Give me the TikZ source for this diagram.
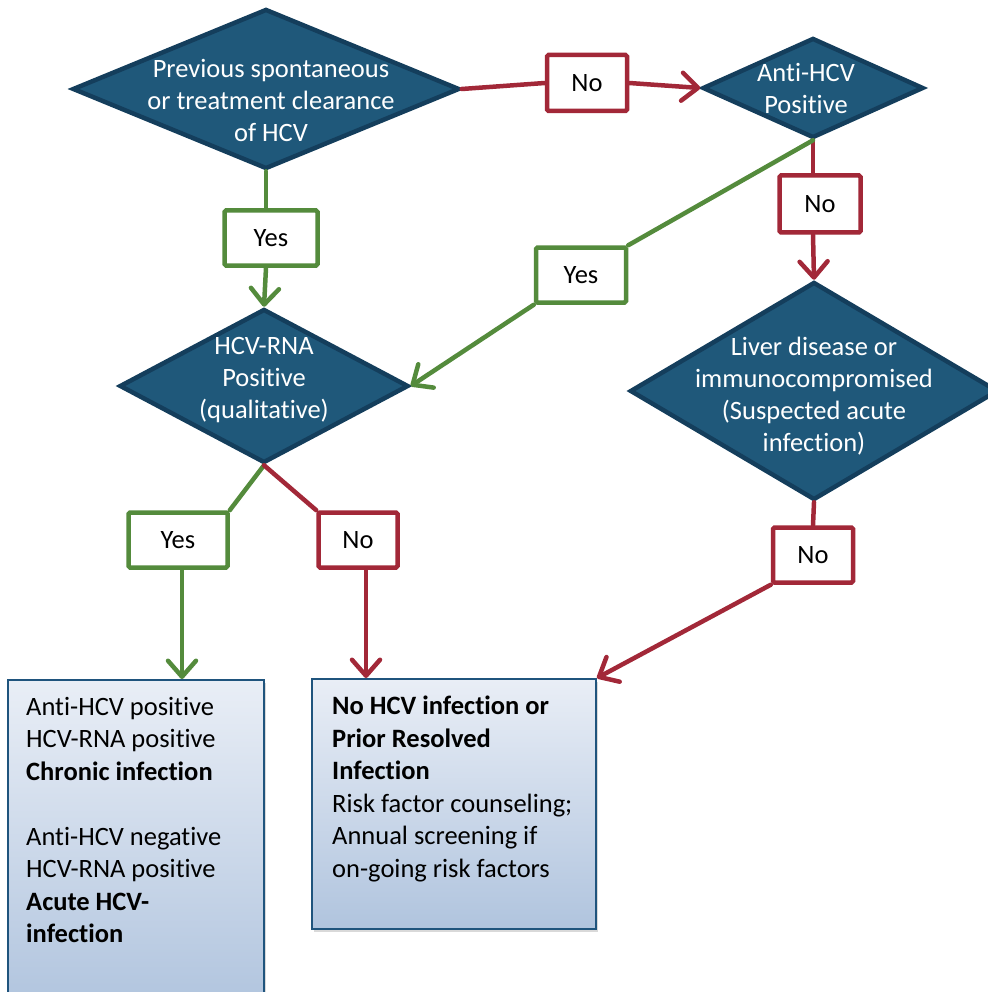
\documentclass[tikz,border=0pt]{standalone}
\usepackage{fontspec}
\setmainfont{Carlito}[Ligatures=NoCommon]
\usetikzlibrary{shapes.geometric,arrows.meta,shadows}
\definecolor{diafill}{RGB}{31,88,122}
\definecolor{diadraw}{RGB}{20,62,92}
\definecolor{yesgreen}{RGB}{84,139,60}
\definecolor{nored}{RGB}{162,40,56}
\definecolor{resdraw}{RGB}{31,84,125}
\definecolor{restop}{RGB}{233,238,246}
\definecolor{resbot}{RGB}{176,196,222}
\tikzset{
  dia/.style={diamond, fill=diafill, draw=diadraw, line width=4.5pt, inner sep=0pt},
  diatext/.style={text=white, align=center, font=\fontsize{26.5}{32}\selectfont},
  lab/.style={rectangle, fill=white, line width=4.5pt, rounded corners=1.5pt,
    font=\fontsize{26.5}{32}\selectfont,
    drop shadow={opacity=0.25, shadow xshift=1.5pt, shadow yshift=-2pt}},
  yeslab/.style={lab, draw=yesgreen},
  nolab/.style={lab, draw=nored},
  res/.style={rectangle, draw=resdraw, line width=2pt, top color=restop, bottom color=resbot,
    drop shadow={opacity=0.3, shadow xshift=2pt, shadow yshift=-3pt}},
  restext/.style={anchor=north west, align=left, inner sep=0pt, font=\fontsize{26.5}{32.5}\selectfont},
  yesline/.style={draw=yesgreen, line width=4.5pt, line cap=round},
  noline/.style={draw=nored, line width=4.5pt, line cap=round},
  tip/.style={-{Straight Barb[length=16pt, width=28pt, line cap=round, line join=round]}}
}
\begin{document}
\begin{tikzpicture}[x=1pt, y=-1pt]
\useasboundingbox (0,0) rectangle (987,992);
% decisions
\node[dia, minimum width=387pt, minimum height=160pt] (d1) at (266,89) {};
\node[dia, minimum width=221pt, minimum height=100pt] (d2) at (813,88) {};
\node[dia, minimum width=368pt, minimum height=218pt] (d3) at (814,391) {};
\node[dia, minimum width=289pt, minimum height=154pt] (d4) at (264,386) {};
\node[diatext] (d1t) at (271,100) {Previous spontaneous\\or treatment clearance\\of HCV};
\node[diatext] (d2t) at (806,88) {Anti-HCV\\Positive};
\node[diatext] (d3t) at (814,396) {Liver disease or\\immunocompromised\\(Suspected acute\\infection)};
\node[diatext] (d4t) at (264,380) {HCV-RNA\\Positive\\(qualitative)};
% yes / no labels
\node[nolab, minimum width=80pt, minimum height=56pt] (no1) at (587,83) {No};
\node[nolab, minimum width=81pt, minimum height=57pt] (no2) at (820,204) {No};
\node[yeslab, minimum width=90pt, minimum height=55pt] (yes2) at (581,275) {Yes};
\node[yeslab, minimum width=93pt, minimum height=55pt] (yes1) at (271,238) {Yes};
\node[yeslab, minimum width=99pt, minimum height=55pt] (yes3) at (178,540) {Yes};
\node[nolab, minimum width=79pt, minimum height=55pt] (no3) at (358,540) {No};
\node[nolab, minimum width=80pt, minimum height=55pt] (no4) at (813,555) {No};
% outcomes
\node[res, minimum width=256pt, minimum height=330pt] (res1) at (136,845) {};
\node[res, minimum width=284pt, minimum height=250pt] (res2) at (454,804) {};
\node[restext] (res1t) at (26,697) {Anti-HCV positive\\HCV-RNA positive\\\textbf{Chronic infection}\\[32.5pt]Anti-HCV negative\\HCV-RNA positive\\\textbf{Acute HCV-}\\\textbf{infection}};
\node[restext] (res2t) at (332,696) {\textbf{No HCV infection or}\\\textbf{Prior Resolved}\\\textbf{Infection}\\Risk factor counseling;\\Annual screening if\\on-going risk factors};
% connectors
\draw[yesline] (d1.south) -- (d1.south |- yes1.north);
\draw[yesline, tip] (d1.south |- yes1.south) -- (d4.north);
\draw[noline] (d1.east) -- (no1.west);
\draw[noline, tip] (no1.east) -- (d2.west);
\draw[noline] (d2.south) -- (d2.south |- no2.north);
\draw[noline, tip] (d2.south |- no2.south) -- (d3.north);
\draw[yesline] (d2.south) -- (yes2.north east);
\draw[yesline, tip] (yes2.south west) -- (d4.east);
\draw[yesline] (d4.south) -- (yes3.north east);
\draw[yesline, tip] ([xshift=4pt]yes3.south) -- ([xshift=4pt]yes3.south |- res1.north);
\draw[noline] (d4.south) -- (no3.north west);
\draw[noline, tip] ([xshift=8pt]no3.south) -- ([xshift=8pt]no3.south |- res2.north);
\draw[noline] (d3.south) -- (no4.north);
\draw[noline, tip] (no4.south west) -- (res2.north east);
\end{tikzpicture}
\end{document}
